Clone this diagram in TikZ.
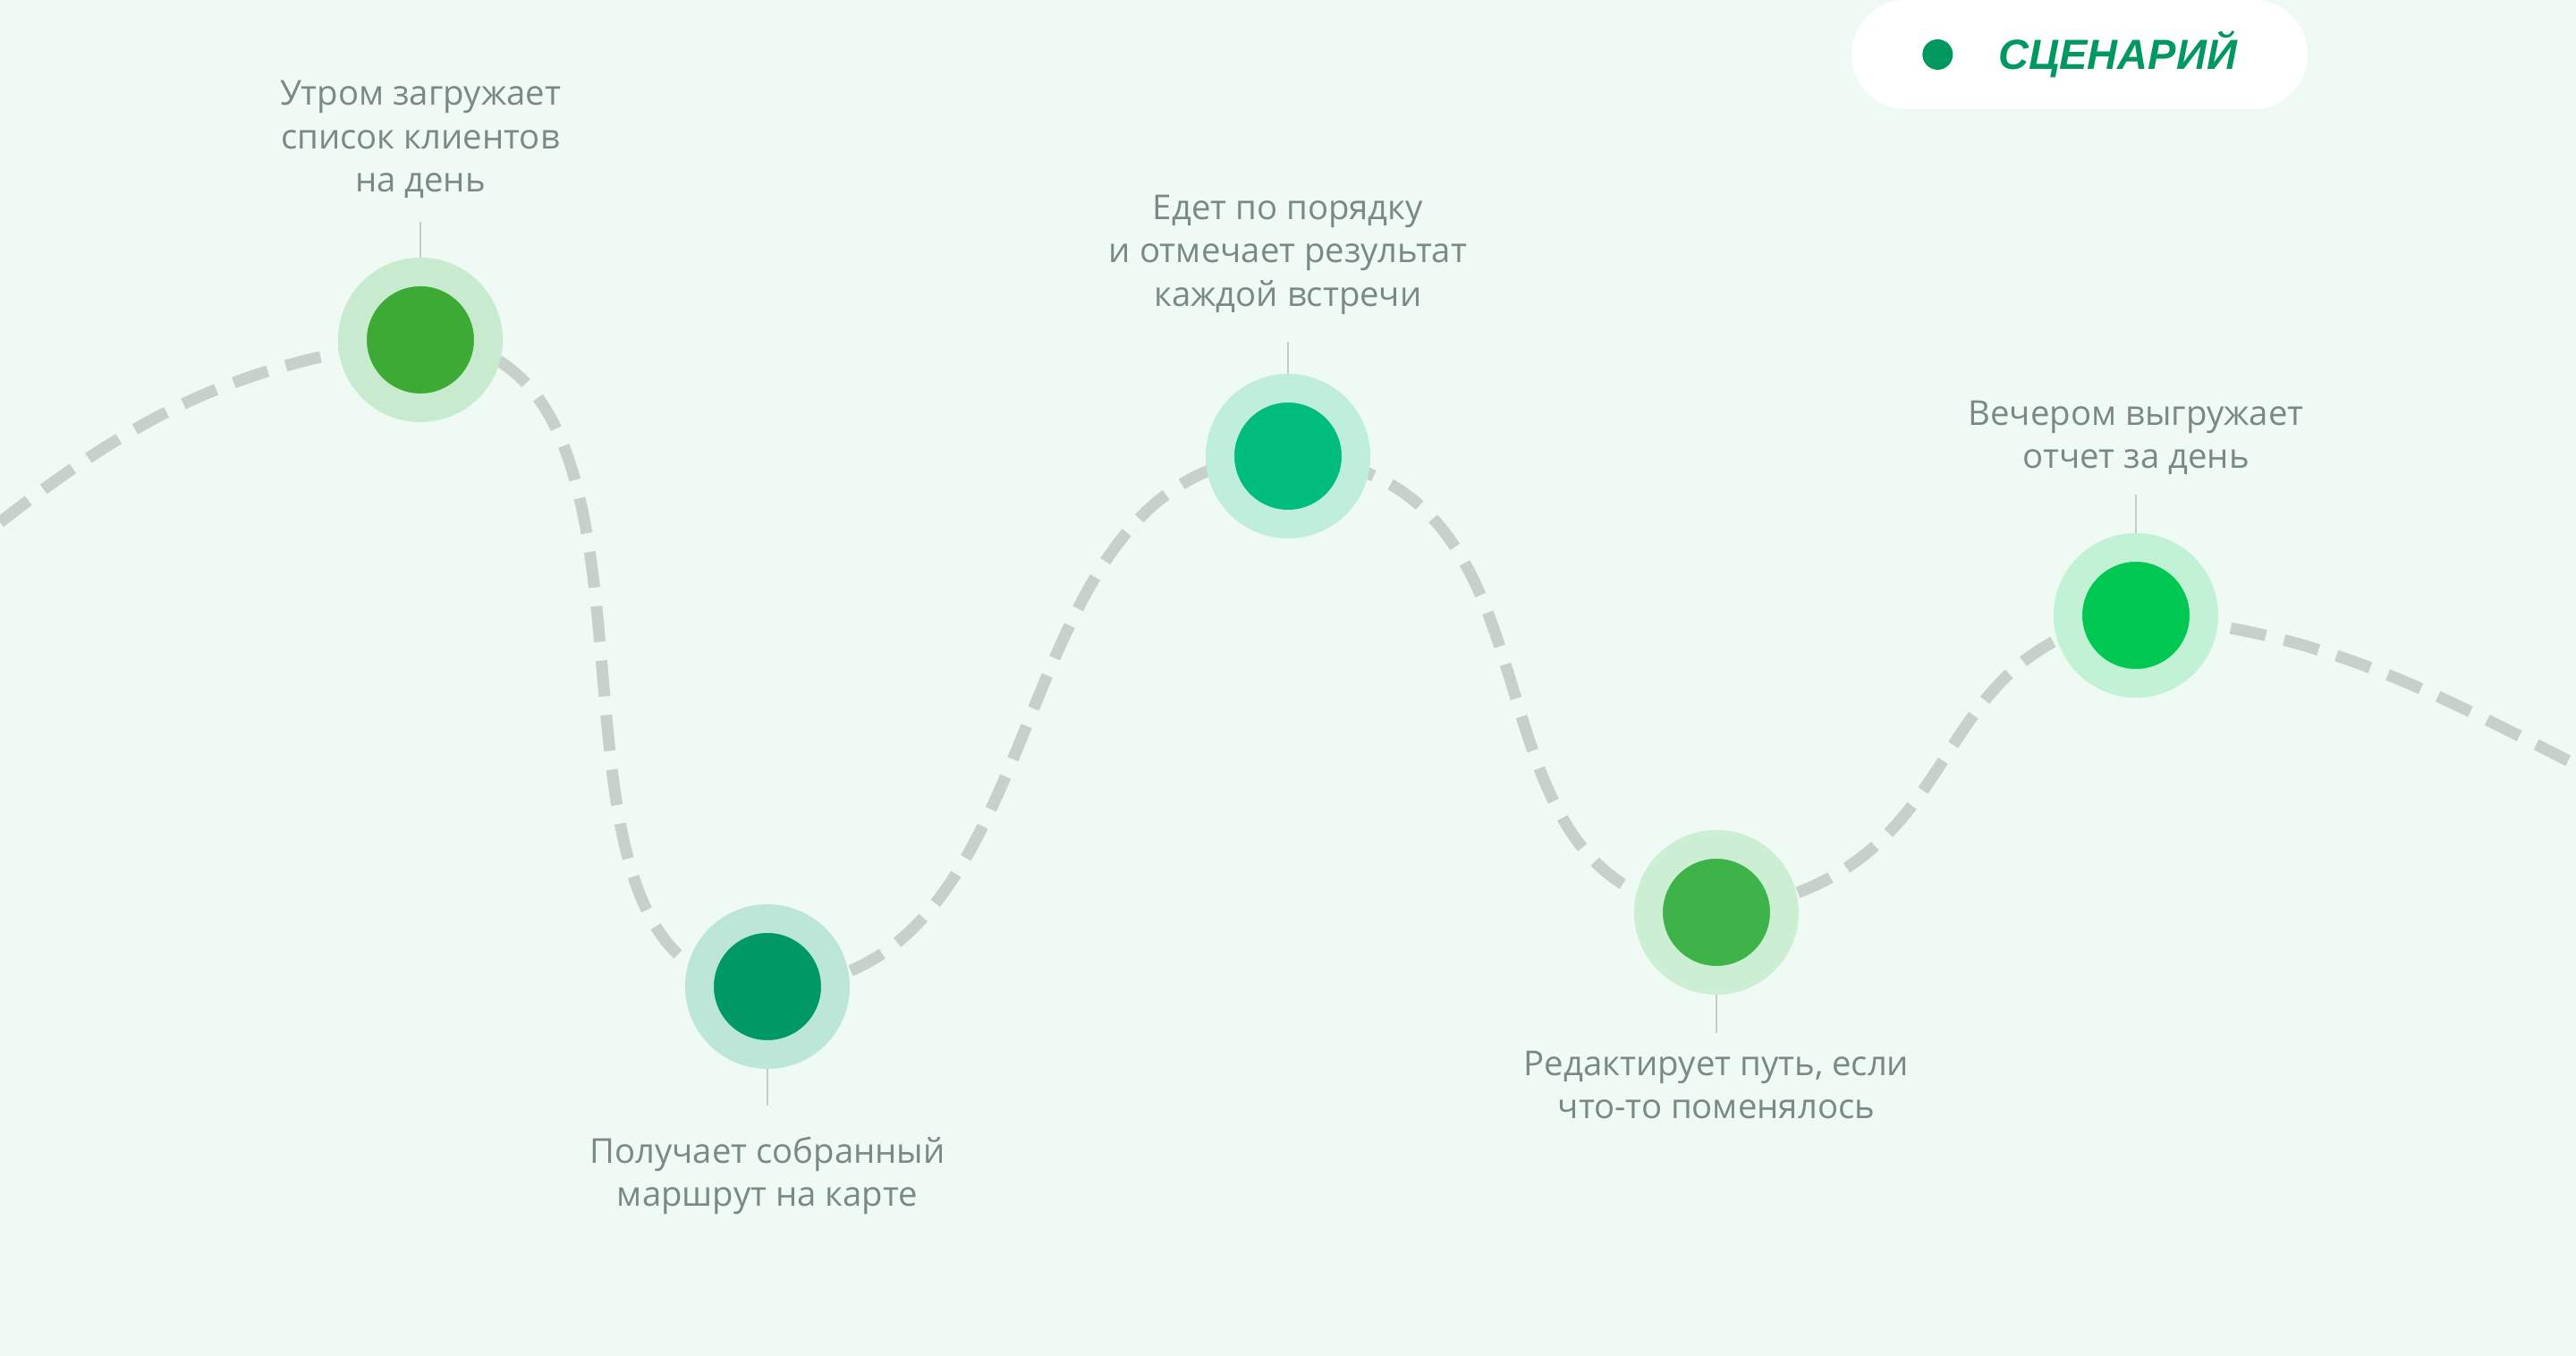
\documentclass[tikz,border=0pt]{standalone}
\usepackage{fontspec}
\setmainfont{Open Sans}
\newfontfamily\badgefont{Liberation Sans}
\usepackage{xcolor}
\usepackage{tikz}
\usetikzlibrary{positioning,backgrounds}
\definecolor{mint}{HTML}{EEFAF3}
\definecolor{trackgray}{HTML}{C6D1CC}
\definecolor{captiongray}{HTML}{7C8886}
\definecolor{leadergray}{HTML}{C3CECA}
\definecolor{badgegreen}{HTML}{00985F}
\definecolor{dotload}{HTML}{3DAA35}   \definecolor{ringload}{HTML}{C8EBCF}
\definecolor{dotroute}{HTML}{009966}  \definecolor{ringroute}{HTML}{BCE7D8}
\definecolor{dotvisit}{HTML}{00BD7E}  \definecolor{ringvisit}{HTML}{C0EEDD}
\definecolor{dotedit}{HTML}{3DB34A}   \definecolor{ringedit}{HTML}{CCEFD3}
\definecolor{dotreport}{HTML}{00C853} \definecolor{ringreport}{HTML}{C2F2D5}

\begin{document}
\begin{tikzpicture}[
        stop/.style={circle, minimum size=1.52cm, inner sep=0pt, line width=0.32cm},
        caption/.style={align=center, text=captiongray, inner sep=0pt, font=\fontsize{10.9}{13.7}\selectfont},
        leader/.style={draw=leadergray, line width=0.8pt},
        track/.style={draw=trackgray, line width=3.7pt, dash pattern=on 11.4pt off 6pt},
    ]
        \useasboundingbox (0,0) rectangle (28.8,15.16);

        \node[stop, draw=ringload, fill=dotload] (load) at (4.70,11.36) {};
        \node[stop, draw=ringroute, fill=dotroute] (route) at (8.58,4.13) {};
        \node[stop, draw=ringvisit, fill=dotvisit] (visit) at (14.40,10.06) {};
        \node[stop, draw=ringedit, fill=dotedit] (edit) at (19.19,4.96) {};
        \node[stop, draw=ringreport, fill=dotreport] (report) at (23.88,8.28) {};

        \node[caption, above=0.66cm of load] (load-txt) {Утром загружает\\список клиентов\\на день};
        \node[caption, below=0.75cm of route] (route-txt) {Получает собранный\\маршрут на карте};
        \node[caption, above=0.66cm of visit] (visit-txt) {Едет по порядку\\и отмечает результат\\каждой встречи};
        \node[caption, below=0.62cm of edit] (edit-txt) {Редактирует путь, если\\что-то поменялось};
        \node[caption, above=0.65cm of report] (report-txt) {Вечером выгружает\\отчет за день};

        \draw[leader, shorten >=0.26cm] (load.north) -- (load-txt.south);
        \draw[leader, shorten >=0.34cm] (route.south) -- (route-txt.north);
        \draw[leader, shorten >=0.30cm] (visit.north) -- (visit-txt.south);
        \draw[leader, shorten >=0.19cm] (edit.south) -- (edit-txt.north);
        \draw[leader, shorten >=0.22cm] (report.north) -- (report-txt.south);

        % badge top right
        \node[fill=white, rounded corners=0.61cm, minimum width=5.10cm, minimum height=1.22cm] (badge) at (23.25,14.55) {};
        \node[circle, fill=badgegreen, minimum size=0.34cm, inner sep=0pt] (badge-dot) at ([xshift=0.97cm]badge.west) {};
        \node[anchor=west, inner sep=0pt, text=badgegreen, font=\badgefont\bfseries\itshape\fontsize{13.4}{16}\selectfont] (badge-txt) at ([xshift=1.64cm]badge.west) {СЦЕНАРИЙ};

        \begin{scope}[on background layer]
            \fill[mint] (0,0) rectangle (28.8,15.16);
            \coordinate (track-start) at (0,9.32);
            \coordinate (track-end) at (28.8,6.61);
            \draw[track] (track-start) to[out=38,in=187] (load.center)
                .. controls +(3.38,-0.05) and +(-3.14,-0.04) .. (route.center)
                .. controls +(3.42,0) and +(-3.40,0) .. (visit.center)
                .. controls +(3.43,-0.20) and +(-3.15,0.20) .. (edit.center)
                .. controls +(3.01,0.40) and +(-2.57,-0.40) .. (report.center)
                to[out=-5,in=153] (track-end);
        \end{scope}
    \end{tikzpicture}
\end{document}
